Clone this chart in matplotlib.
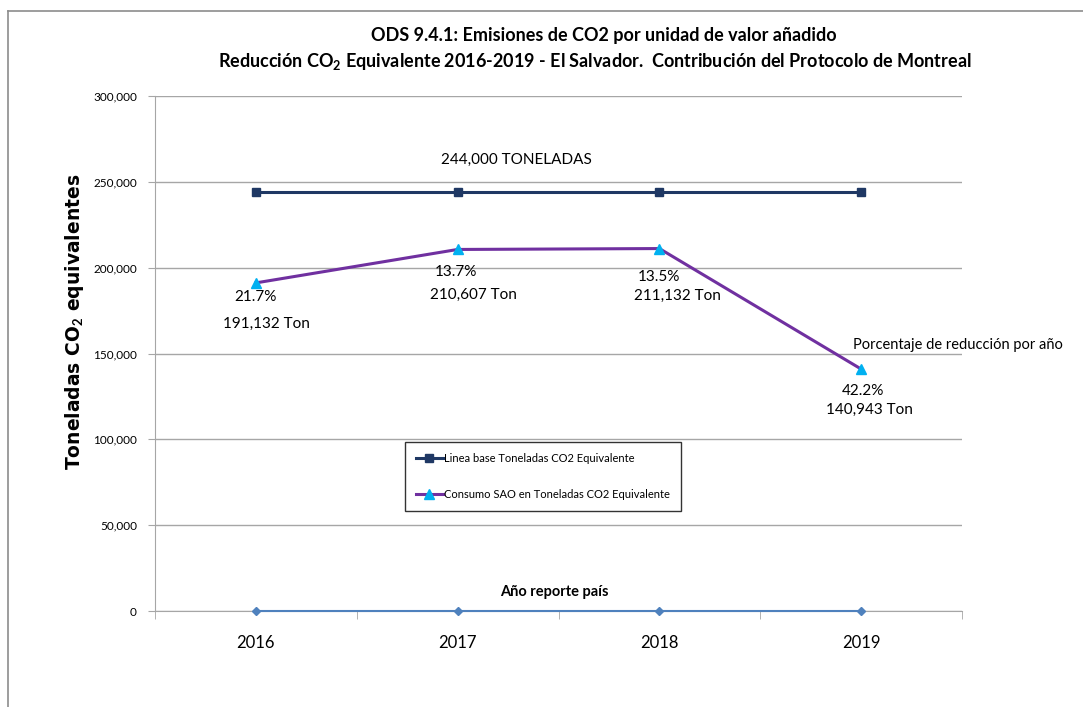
import numpy as np
import matplotlib.pyplot as plt
from matplotlib.ticker import FuncFormatter, FixedLocator

plt.rcParams["font.family"] = ["Liberation Sans Narrow", "Lato", "DejaVu Sans"]
plt.rcParams["mathtext.fontset"] = "custom"
plt.rcParams["mathtext.rm"] = "Lato"
plt.rcParams["mathtext.bf"] = "Lato:bold"

# data
years = ["2016", "2017", "2018", "2019"]
linea_base = [244000, 244000, 244000, 244000]
consumo_sao = [191132, 210607, 211132, 140943]
anio_reporte = [0, 0, 0, 0]
porcentajes = ["21.7%", "13.7%", "13.5%", "42.2%"]
ton_labels = ["191,132 Ton", "210,607 Ton", "211,132 Ton", "140,943 Ton"]

x = np.arange(len(years))

fig = plt.figure(figsize=(10.83, 7.07), dpi=100)
ax = fig.add_axes([155 / 1083, 1 - 611 / 707, 807 / 1083, 515 / 707])

# figure frame (gray lines top and left)
fig.add_artist(plt.Line2D([8 / 1083, 8 / 1083], [0, 1 - 11 / 707], color="#8c8c8c", lw=1.2))
fig.add_artist(plt.Line2D([8 / 1083, 1], [1 - 11 / 707, 1 - 11 / 707], color="#8c8c8c", lw=1.2))

ax.plot(x, anio_reporte, color="#4F81BD", lw=1.5, marker="D", ms=4,
        label="_Año reporte país", zorder=3, clip_on=False)
ax.plot(x, linea_base, color="#1F3864", lw=2.2, marker="s", ms=6,
        label="Linea base Toneladas CO2 Equivalente", zorder=4)
ax.plot(x, consumo_sao, color="#7030A0", lw=2.2, marker="^", ms=7,
        markerfacecolor="#00B0F0", markeredgecolor="#00B0F0",
        label="Consumo SAO en Toneladas CO2 Equivalente", zorder=4)

ax.set_xlim(-0.5, 3.5)
ax.set_ylim(0, 300000)
ax.yaxis.set_major_locator(FixedLocator(np.arange(0, 300001, 50000)))
ax.yaxis.set_major_formatter(FuncFormatter(lambda v, p: f"{int(v):,}"))
ax.grid(axis="y", color="#a6a6a6", lw=1)
ax.set_axisbelow(True)

ax.set_xticks(x)
ax.set_xticklabels(years, fontsize=12)
ax.set_xticks(np.arange(-0.5, 3.6, 1), minor=True)
ax.tick_params(axis="x", which="major", length=0, pad=17)
ax.tick_params(axis="x", which="minor", length=6, color="#a6a6a6")
ax.tick_params(axis="y", length=5, color="#a6a6a6", labelsize=8.5, pad=8)

for s in ["top", "right"]:
    ax.spines[s].set_visible(False)
for s in ["left", "bottom"]:
    ax.spines[s].set_color("#a6a6a6")

# annotations
ax.text(1.29, 262500, "244,000 TONELADAS", ha="center", va="center", fontsize=11)
pct_pos = [(0.0, 183000), (0.99, 197500), (2.0, 194600), (3.01, 128000)]
ton_pos = [(0.05, 167000), (1.08, 184000), (2.09, 183500), (3.04, 117000)]
for (px, py), t in zip(pct_pos, porcentajes):
    ax.text(px, py, t, ha="center", va="center", fontsize=11)
for (px, py), t in zip(ton_pos, ton_labels):
    ax.text(px, py, t, ha="center", va="center", fontsize=11)
ax.text(3.48, 155000, "Porcentaje de reducción por año", ha="center", va="center",
        fontsize=10.5, clip_on=False)
ax.text(1.48, 11000, "Año reporte país", ha="center", va="center",
        fontsize=10.5, fontweight="bold")

leg = ax.legend(loc="upper left", bbox_to_anchor=((405 - 155) / 807, (611 - 442) / 515),
                fontsize=8, frameon=True, fancybox=False, edgecolor="black",
                labelspacing=2.2, handlelength=2.4, handletextpad=0.1,
                borderpad=1.0, borderaxespad=0)
leg.get_frame().set_linewidth(1)

fig.text(604 / 1083, 1 - 35 / 707, "ODS 9.4.1: Emisiones de CO2 por unidad de valor añadido",
         ha="center", va="center", fontsize=13, fontweight="bold")
fig.text(595 / 1083, 1 - 61 / 707,
         "Reducción CO$_\\mathbf{2}$ Equivalente 2016-2019 - El Salvador.  Contribución del Protocolo de Montreal",
         ha="center", va="center", fontsize=13, fontweight="bold")
fig.text(75 / 1083, 1 - 322 / 707, "Toneladas CO$_\\mathbf{2}$ equivalentes", rotation=90,
         ha="center", va="center", fontsize=13.5, fontweight="bold", family="DejaVu Sans")

fig.savefig("out.png", dpi=100)
